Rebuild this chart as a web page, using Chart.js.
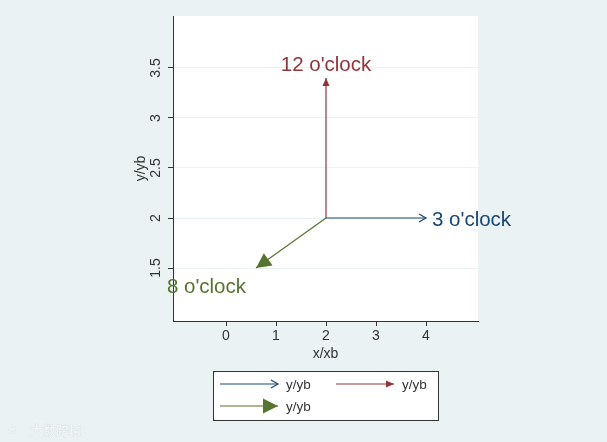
<!DOCTYPE html>
<html>
<head>
<meta charset="utf-8">
<script src="https://cdn.jsdelivr.net/npm/chart.js@4"></script>
<style>
  html, body { margin: 0; padding: 0; background: #eaf2f3; }
  #wrap { width: 607px; height: 442px; }
</style>
</head>
<body>
<div id="wrap"><canvas id="myChart" width="607" height="442"></canvas></div>
<script>
// Data
const originX = 2;
const originY = 2;
const tipX = [4, 2, 0.6];
const tipY = [2, 3.4, 1.5];
const arrowLabels = ["3 o'clock", "12 o'clock", "8 o'clock"];
const legendLabels = ['y/yb', 'y/yb', 'y/yb'];
const xTicks = [0, 1, 2, 3, 4];
const yTicks = [1.5, 2, 2.5, 3, 3.5];

const colors = ['#1a476f', '#90353b', '#55752f'];
const headStyle = ['open', 'small', 'big'];
const FONT = 'Arial, "Liberation Sans", sans-serif';

function drawHead(ctx, x0, y0, x1, y1, style, color) {
  const ang = Math.atan2(y1 - y0, x1 - x0);
  let len = 8, half = 3.5;
  if (style === 'open') { len = 7; half = 4; }
  if (style === 'big') { len = 15; half = 7.5; }
  const bx = x1 - len * Math.cos(ang), by = y1 - len * Math.sin(ang);
  const px = -Math.sin(ang) * half, py = Math.cos(ang) * half;
  ctx.save();
  ctx.strokeStyle = color;
  ctx.fillStyle = color;
  ctx.lineWidth = 1.2;
  ctx.beginPath();
  if (style === 'open') {
    ctx.moveTo(bx + px, by + py);
    ctx.lineTo(x1, y1);
    ctx.lineTo(bx - px, by - py);
    ctx.stroke();
  } else {
    ctx.moveTo(x1, y1);
    ctx.lineTo(bx + px, by + py);
    ctx.lineTo(bx - px, by - py);
    ctx.closePath();
    ctx.fill();
  }
  ctx.restore();
}

const arrowPlugin = {
  id: 'arrows',
  beforeDraw(chart) {
    const { ctx, chartArea: a } = chart;
    ctx.save();
    ctx.fillStyle = '#eaf2f3';
    ctx.fillRect(0, 0, chart.width, chart.height);
    ctx.fillStyle = '#ffffff';
    ctx.fillRect(a.left, a.top, a.right - a.left, a.bottom - a.top);
    ctx.restore();
  },
  afterDatasetsDraw(chart) {
    const { ctx } = chart;
    const xs = chart.scales.x, ys = chart.scales.y;
    const ox = xs.getPixelForValue(originX), oy = ys.getPixelForValue(originY);
    tipX.forEach((tx, i) => {
      const px = xs.getPixelForValue(tx), py = ys.getPixelForValue(tipY[i]);
      drawHead(ctx, ox, oy, px, py, headStyle[i], colors[i]);
      ctx.save();
      ctx.fillStyle = colors[i];
      ctx.font = '20.5px ' + FONT;
      ctx.textBaseline = 'middle';
      if (i === 0) {
        ctx.textAlign = 'left';
        ctx.fillText(arrowLabels[i], px + 6, py + 2);
      } else if (i === 1) {
        ctx.textAlign = 'center';
        ctx.fillText(arrowLabels[i], px, py - 13);
      } else {
        ctx.textAlign = 'right';
        ctx.fillText(arrowLabels[i], px - 10, py + 19);
      }
      ctx.restore();
    });
  },
  afterDraw(chart) {
    const { ctx } = chart;
    const ys = chart.scales.y;
    // rotated y tick labels
    ctx.save();
    ctx.fillStyle = '#333333';
    ctx.font = '14px ' + FONT;
    ctx.textAlign = 'center';
    ctx.textBaseline = 'middle';
    ys.ticks.forEach(t => {
      const py = ys.getPixelForValue(t.value);
      ctx.save();
      ctx.translate(ys.right - 17, py);
      ctx.rotate(-Math.PI / 2);
      ctx.fillText(String(t.value), 0, 0);
      ctx.restore();
    });
    ctx.restore();

    // legend box
    const L = 213, T = 371, W = 225, H = 49;
    ctx.save();
    ctx.fillStyle = '#ffffff';
    ctx.fillRect(L, T, W, H);
    ctx.strokeStyle = '#333333';
    ctx.lineWidth = 1;
    ctx.strokeRect(L + 0.5, T + 0.5, W, H);
    const items = [[220, 384], [336, 384], [220, 406]];
    items.forEach(([lx, ly], i) => {
      ctx.strokeStyle = colors[i];
      ctx.lineWidth = 1.2;
      ctx.beginPath();
      ctx.moveTo(lx, ly);
      ctx.lineTo(lx + 58, ly);
      ctx.stroke();
      drawHead(ctx, lx, ly, lx + 58, ly, headStyle[i], colors[i]);
      ctx.fillStyle = '#333333';
      ctx.font = '13.5px ' + FONT;
      ctx.textAlign = 'left';
      ctx.textBaseline = 'middle';
      ctx.fillText(legendLabels[i], lx + 66, ly + 1);
    });
    ctx.restore();

    // faint watermark
    ctx.save();
    ctx.font = '13px "Noto Sans CJK SC", sans-serif';
    ctx.textBaseline = 'middle';
    ctx.fillStyle = '#f4f7f8';
    ctx.strokeStyle = '#d3dadd';
    ctx.lineWidth = 0.5;
    ctx.strokeText('大数跨境', 30, 430);
    ctx.fillText('大数跨境', 30, 430);
    ctx.font = '11px Arial, sans-serif';
    ctx.strokeText('C', 8, 430);
    ctx.fillText('C', 8, 430);
    ctx.restore();
  }
};

const datasets = tipX.map((tx, i) => ({
  label: legendLabels[i],
  data: [{ x: originX, y: originY }, { x: tx, y: tipY[i] }],
  showLine: true,
  borderColor: colors[i],
  backgroundColor: colors[i],
  borderWidth: 1.2,
  pointRadius: 0,
}));

const config = {
  type: 'scatter',
  data: { datasets },
  options: {
    responsive: false,
    animation: false,
    layout: { padding: { left: 0, top: 16, right: 129, bottom: 79 } },
    plugins: {
      legend: { display: false },
      tooltip: { enabled: false },
    },
    scales: {
      x: {
        type: 'linear',
        min: -1.06,
        max: 5.04,
        afterBuildTicks(scale) { scale.ticks = xTicks.map(v => ({ value: v })); },
        afterFit(scale) { scale.height = 42; },
        grid: { drawOnChartArea: false, tickLength: 5, tickColor: '#333333' },
        border: { display: true, color: '#333333', width: 1 },
        ticks: { color: '#333333', font: { family: FONT, size: 14 }, padding: 2 },
        title: { display: true, text: 'x/xb', color: '#333333', font: { family: FONT, size: 14 }, padding: { top: 0, bottom: 0 } },
      },
      y: {
        type: 'linear',
        min: 0.97,
        max: 4.02,
        afterBuildTicks(scale) { scale.ticks = yTicks.map(v => ({ value: v })); },
        afterFit(scale) { scale.width = 173; },
        grid: { color: '#eaf2f3', lineWidth: 1, tickLength: 5, tickColor: '#333333' },
        border: { display: true, color: '#333333', width: 1 },
        ticks: { display: false },
        title: { display: true, text: 'y/yb', color: '#333333', font: { family: FONT, size: 14 }, padding: { top: 133, bottom: 0 } },
      },
    },
  },
  plugins: [arrowPlugin],
};

const myChart = new Chart(document.getElementById('myChart'), config);
</script>
</body>
</html>
